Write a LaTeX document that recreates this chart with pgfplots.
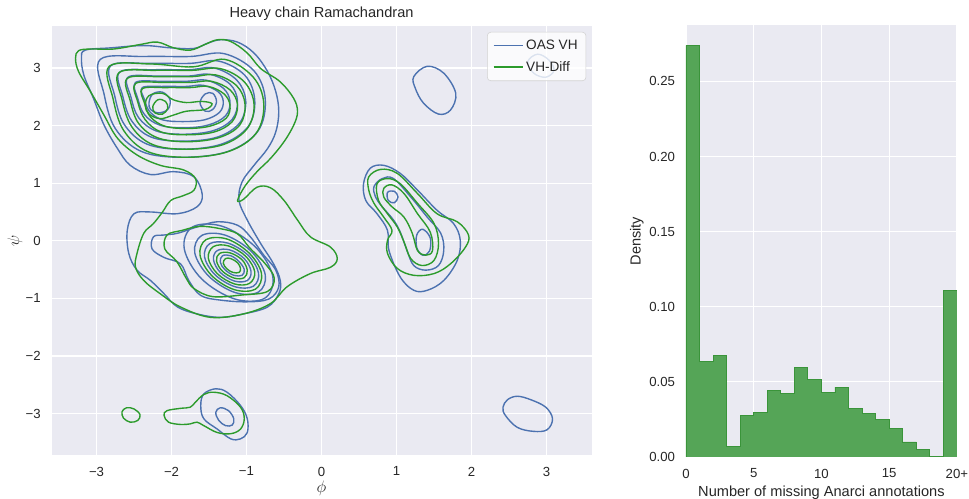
\documentclass[border=0pt]{standalone}
\usepackage{fontspec}
\setmainfont{Liberation Sans}
\usepackage{pgfplots}
\pgfplotsset{compat=1.18}

\definecolor{bg}{HTML}{EAEAF2}
\definecolor{sblue}{HTML}{4C72B0}
\definecolor{sgreen}{RGB}{44,155,44}
\definecolor{hfill}{RGB}{85,165,87}
\definecolor{hedge}{RGB}{58,148,58}
\definecolor{txt}{RGB}{38,38,38}

\pgfplotsset{
  sbstyle/.style={
    scale only axis,
    axis background/.style={fill=bg},
    axis line style={draw=none},
    grid=major,
    major grid style={white, line width=0.9pt},
    major tick length=0pt,
    tick label style={font=\fontsize{9.5}{11}\selectfont, text=txt},
    label style={font=\fontsize{10.5}{12}\selectfont, text=txt},
    every axis title shift=0pt,
    title style={font=\fontsize{10.5}{12}\selectfont, text=txt, at={(0.5,1)}, anchor=base, yshift=6pt},
    /pgf/number format/assume math mode=true,
    xticklabel style={yshift=-5pt},
    yticklabel style={xshift=-4.3pt},
  },
  cb/.style={color=sblue, line width=1pt, smooth cycle, tension=0.6, forget plot, mark=none},
  cg/.style={color=sgreen, line width=1pt, smooth cycle, tension=0.6, forget plot, mark=none},
}

\begin{document}
\begin{tikzpicture}
\useasboundingbox (-37.1pt,-31pt) rectangle (660.6pt,327.6pt);
\begin{axis}[sbstyle,
  width=388.8pt, height=308.9pt,
  xmin=-3.6, xmax=3.6, ymin=-3.72, ymax=3.73,
  xtick={-3,-2,-1,0,1,2,3}, xticklabels={−3,−2,−1,0,1,2,3},
  ytick={-3,-2,-1,0,1,2,3}, yticklabels={−3,−2,−1,0,1,2,3},
  title={Heavy chain Ramachandran},
  xlabel={$\phi$}, ylabel={$\psi$},
  xlabel style={at={(axis description cs:0.5,0)}, anchor=base, yshift=-27pt, font=\fontsize{12.5}{14}\selectfont},
  ylabel style={at={(axis description cs:-0.0676,0.5)}, anchor=center, font=\fontsize{12.5}{14}\selectfont},
  legend style={at={(1,1)}, anchor=north east, xshift=-3.8pt, yshift=-4.3pt,
    fill=white, fill opacity=0.8, draw opacity=1, text opacity=1, draw=black!18,
    rounded corners=2.5pt, font=\fontsize{9.8}{11}\selectfont, text=txt,
    inner xsep=4pt, inner ysep=3.5pt, row sep=3pt},
  legend cell align=left,
  legend image code/.code={\draw[#1] (0pt,0pt) -- (21pt,0pt);},
]
% ---------------- OAS VH (blue) ----------------
\addplot[cb] coordinates {(-3.15,3.31) (-2.81,3.35) (-2.37,3.39) (-2.01,3.35) (-1.70,3.34) (-1.52,3.43) (-1.35,3.49) (-1.12,3.45) (-0.90,3.26) (-0.72,2.94) (-0.61,2.59) (-0.57,2.24) (-0.61,1.89) (-0.72,1.60) (-0.90,1.31) (-1.06,1.02) (-1.10,0.70) (-0.99,0.36) (-0.81,-0.05) (-0.64,-0.40) (-0.55,-0.69) (-0.57,-0.92) (-0.72,-1.15) (-1.04,-1.27) (-1.35,-1.33) (-1.66,-1.27) (-1.92,-1.15) (-2.10,-0.92) (-2.28,-0.69) (-2.46,-0.51) (-2.57,-0.22) (-2.59,0.18) (-2.50,0.47) (-2.28,0.50) (-1.92,0.47) (-1.66,0.59) (-1.59,0.80) (-1.70,1.11) (-1.97,1.20) (-2.28,1.15) (-2.55,1.31) (-2.72,1.60) (-2.90,2.01) (-3.04,2.47) (-3.17,2.88) (-3.20,3.17)};
\addplot[cb] coordinates {(-2.95,3.15) (-2.35,3.20) (-1.75,3.20) (-1.30,3.25) (-0.90,2.95) (-0.75,2.45) (-0.85,1.90) (-1.25,1.55) (-1.85,1.45) (-2.40,1.55) (-2.75,1.95) (-2.90,2.55)};
\addplot[cb] coordinates {(-2.81,3.04) (-2.29,3.08) (-1.76,3.08) (-1.37,3.12) (-1.02,2.87) (-0.89,2.44) (-0.98,1.98) (-1.33,1.68) (-1.85,1.59) (-2.33,1.68) (-2.63,2.02) (-2.76,2.53)};
\addplot[cb] coordinates {(-2.69,2.93) (-2.23,2.97) (-1.77,2.97) (-1.43,3.00) (-1.13,2.79) (-1.01,2.44) (-1.09,2.05) (-1.39,1.80) (-1.85,1.73) (-2.27,1.80) (-2.53,2.08) (-2.65,2.51)};
\addplot[cb] coordinates {(-2.58,2.84) (-2.18,2.86) (-1.78,2.86) (-1.49,2.89) (-1.22,2.72) (-1.12,2.43) (-1.19,2.11) (-1.45,1.91) (-1.85,1.85) (-2.21,1.91) (-2.44,2.14) (-2.54,2.49)};
\addplot[cb] coordinates {(-2.48,2.75) (-2.14,2.77) (-1.79,2.77) (-1.54,2.79) (-1.31,2.65) (-1.22,2.42) (-1.28,2.17) (-1.51,2.01) (-1.85,1.96) (-2.16,2.01) (-2.36,2.19) (-2.45,2.47)};
\addplot[cb] coordinates {(-2.39,2.66) (-2.10,2.68) (-1.80,2.68) (-1.58,2.70) (-1.38,2.59) (-1.31,2.42) (-1.36,2.23) (-1.56,2.10) (-1.85,2.07) (-2.12,2.10) (-2.29,2.24) (-2.36,2.45)};
\addplot[cb] coordinates {(-2.30,2.40) (-2.25,2.55) (-2.12,2.58) (-2.02,2.45) (-2.05,2.28) (-2.18,2.22) (-2.28,2.28)};
\addplot[cb] coordinates {(-1.62,2.40) (-1.55,2.55) (-1.45,2.56) (-1.40,2.42) (-1.45,2.28) (-1.55,2.25)};
\addplot[cb] coordinates {(-2.24,0.07) (-2.26,-0.14) (-2.10,-0.29) (-1.88,-0.40) (-1.77,-0.69) (-1.61,-0.95) (-1.35,-1.03) (-0.99,-1.06) (-0.70,-1.01) (-0.57,-0.80) (-0.61,-0.51) (-0.77,-0.25) (-0.95,0.07) (-1.12,0.27) (-1.39,0.33) (-1.66,0.24) (-1.92,0.13) (-2.10,0.10)};
\addplot[cb] coordinates {(-0.76,-1.00) (-0.65,-0.62) (-0.88,-0.11) (-1.32,0.25) (-1.72,0.24) (-1.83,-0.14) (-1.60,-0.66) (-1.16,-1.01)};
\addplot[cb] coordinates {(-0.84,-0.89) (-0.75,-0.59) (-0.94,-0.18) (-1.29,0.10) (-1.60,0.09) (-1.69,-0.21) (-1.50,-0.62) (-1.15,-0.90)};
\addplot[cb] coordinates {(-0.91,-0.79) (-0.84,-0.56) (-0.98,-0.25) (-1.25,-0.04) (-1.49,-0.05) (-1.56,-0.28) (-1.42,-0.59) (-1.15,-0.80)};
\addplot[cb] coordinates {(-0.99,-0.69) (-0.94,-0.53) (-1.03,-0.31) (-1.22,-0.16) (-1.39,-0.17) (-1.44,-0.33) (-1.35,-0.55) (-1.16,-0.70)};
\addplot[cb] coordinates {(-1.06,-0.60) (-1.03,-0.50) (-1.10,-0.36) (-1.21,-0.26) (-1.32,-0.26) (-1.35,-0.37) (-1.29,-0.50) (-1.17,-0.60)};
\addplot[cb] coordinates {(0.56,0.99) (0.65,1.26) (0.83,1.31) (1.05,1.17) (1.28,0.88) (1.54,0.53) (1.76,0.30) (1.85,0.01) (1.81,-0.34) (1.63,-0.69) (1.41,-0.86) (1.23,-0.86) (1.05,-0.63) (0.90,-0.17) (0.88,0.18) (0.74,0.47) (0.59,0.70)};
\addplot[cb] coordinates {(0.70,0.94) (0.81,1.08) (0.96,1.08) (1.19,0.76) (1.41,0.41) (1.59,0.13) (1.63,-0.17) (1.56,-0.43) (1.39,-0.51) (1.23,-0.43) (1.14,-0.17) (1.05,0.15) (0.96,0.36) (0.81,0.59) (0.72,0.76)};
\addplot[cb] coordinates {(0.88,0.84) (0.97,0.86) (1.02,0.76) (0.97,0.66) (0.89,0.70)};
\addplot[cb] coordinates {(1.27,0.10) (1.35,0.20) (1.45,0.05) (1.44,-0.18) (1.35,-0.25) (1.27,-0.12)};
\addplot[cb] coordinates {(1.23,2.85) (1.41,3.03) (1.63,2.91) (1.79,2.56) (1.72,2.27) (1.56,2.20) (1.36,2.39) (1.25,2.65)};
\addplot[cb] coordinates {(2.75,3.11) (2.88,3.24) (3.03,3.14) (3.10,2.96) (2.99,2.84) (2.83,2.91)};
\addplot[cb] coordinates {(2.42,-2.89) (2.48,-2.76) (2.61,-2.70) (2.79,-2.76) (2.99,-2.89) (3.08,-3.09) (3.01,-3.28) (2.83,-3.31) (2.61,-3.24) (2.45,-3.03)};
\addplot[cb] coordinates {(-1.61,-2.86) (-1.57,-2.66) (-1.41,-2.57) (-1.26,-2.63) (-1.08,-2.86) (-0.99,-3.09) (-0.99,-3.33) (-1.08,-3.44) (-1.21,-3.44) (-1.39,-3.27) (-1.57,-3.09)};
\addplot[cb] coordinates {(-1.41,-2.98) (-1.35,-2.90) (-1.24,-2.95) (-1.17,-3.09) (-1.19,-3.20) (-1.28,-3.21) (-1.37,-3.12)};
% ---------------- VH-Diff (green) ----------------
\addplot[cg] coordinates {(-3.24,3.30) (-3.08,3.33) (-2.77,3.33) (-2.41,3.41) (-2.19,3.45) (-1.97,3.35) (-1.75,3.31) (-1.57,3.40) (-1.39,3.49) (-1.21,3.46) (-0.99,3.26) (-0.81,2.99) (-0.55,2.76) (-0.37,2.47) (-0.32,2.24) (-0.37,2.01) (-0.50,1.72) (-0.68,1.43) (-0.86,1.20) (-1.02,0.95) (-1.12,0.70) (-1.04,0.72) (-0.86,0.93) (-0.68,0.92) (-0.50,0.70) (-0.32,0.36) (-0.15,0.07) (0.12,-0.11) (0.21,-0.31) (0.12,-0.46) (-0.15,-0.57) (-0.46,-0.80) (-0.68,-1.09) (-1.04,-1.27) (-1.48,-1.33) (-1.88,-1.15) (-2.15,-0.92) (-2.37,-0.69) (-2.48,-0.46) (-2.46,-0.22) (-2.37,0.13) (-2.24,0.30) (-2.12,0.50) (-2.01,0.70) (-1.85,0.78) (-1.70,0.88) (-1.68,1.08) (-1.84,1.23) (-2.15,1.31) (-2.46,1.49) (-2.72,1.78) (-2.90,2.18) (-3.08,2.59) (-3.24,2.94) (-3.28,3.17)};
\addplot[cg] coordinates {(-2.83,3.03) (-2.27,3.07) (-1.71,3.02) (-1.29,3.15) (-0.91,2.84) (-0.77,2.38) (-0.87,1.87) (-1.24,1.55) (-1.80,1.45) (-2.32,1.55) (-2.64,1.92) (-2.78,2.47)};
\addplot[cg] coordinates {(-2.70,2.92) (-2.21,2.96) (-1.72,2.96) (-1.35,2.99) (-1.03,2.76) (-0.90,2.37) (-0.99,1.95) (-1.31,1.67) (-1.80,1.59) (-2.25,1.67) (-2.53,1.98) (-2.66,2.45)};
\addplot[cg] coordinates {(-2.59,2.82) (-2.16,2.85) (-1.73,2.85) (-1.41,2.88) (-1.13,2.69) (-1.02,2.37) (-1.09,2.01) (-1.37,1.79) (-1.80,1.72) (-2.19,1.79) (-2.44,2.04) (-2.55,2.43)};
\addplot[cg] coordinates {(-2.48,2.73) (-2.11,2.75) (-1.74,2.75) (-1.47,2.77) (-1.22,2.62) (-1.12,2.36) (-1.19,2.07) (-1.43,1.89) (-1.80,1.84) (-2.14,1.89) (-2.35,2.10) (-2.45,2.41)};
\addplot[cg] coordinates {(-2.39,2.64) (-2.07,2.66) (-1.75,2.66) (-1.51,2.68) (-1.30,2.55) (-1.22,2.35) (-1.27,2.13) (-1.49,1.99) (-1.80,1.95) (-2.09,1.99) (-2.28,2.15) (-2.36,2.39)};
\addplot[cg] coordinates {(-2.35,2.35) (-2.30,2.52) (-2.12,2.56) (-1.98,2.45) (-1.80,2.40) (-1.60,2.42) (-1.46,2.38) (-1.55,2.28) (-1.80,2.25) (-1.98,2.18) (-2.15,2.12) (-2.30,2.20)};
\addplot[cg] coordinates {(-2.25,2.33) (-2.18,2.45) (-2.08,2.42) (-2.05,2.30) (-2.12,2.20) (-2.22,2.22)};
\addplot[cg] coordinates {(-2.06,0.10) (-2.09,-0.14) (-1.93,-0.36) (-1.80,-0.66) (-1.70,-0.83) (-1.45,-0.97) (-1.05,-0.94) (-0.72,-0.88) (-0.63,-0.65) (-0.75,-0.40) (-0.96,-0.12) (-1.12,0.12) (-1.35,0.21) (-1.62,0.25) (-1.86,0.18)};
\addplot[cg] coordinates {(-0.88,-0.84) (-0.80,-0.57) (-0.96,-0.22) (-1.26,0.03) (-1.54,0.02) (-1.62,-0.25) (-1.46,-0.61) (-1.16,-0.85)};
\addplot[cg] coordinates {(-0.96,-0.74) (-0.89,-0.54) (-1.01,-0.27) (-1.24,-0.09) (-1.44,-0.10) (-1.51,-0.30) (-1.39,-0.57) (-1.16,-0.75)};
\addplot[cg] coordinates {(-1.03,-0.64) (-0.99,-0.51) (-1.06,-0.33) (-1.22,-0.21) (-1.36,-0.22) (-1.40,-0.35) (-1.32,-0.53) (-1.16,-0.65)};
\addplot[cg] coordinates {(-1.10,-0.55) (-1.08,-0.48) (-1.12,-0.38) (-1.21,-0.31) (-1.28,-0.31) (-1.31,-0.39) (-1.26,-0.49) (-1.18,-0.55)};
\addplot[cg] coordinates {(0.63,1.11) (0.79,1.24) (1.01,1.17) (1.28,0.82) (1.54,0.47) (1.81,0.33) (1.96,0.10) (1.92,-0.11) (1.72,-0.40) (1.50,-0.57) (1.23,-0.60) (1.01,-0.48) (0.88,-0.22) (0.88,0.01) (0.94,0.18) (0.83,0.41) (0.70,0.65) (0.63,0.88)};
\addplot[cg] coordinates {(0.74,0.99) (0.88,1.08) (1.05,0.99) (1.28,0.65) (1.50,0.30) (1.56,-0.05) (1.50,-0.34) (1.34,-0.43) (1.19,-0.31) (1.10,-0.02) (1.01,0.24) (0.88,0.47) (0.76,0.70)};
\addplot[cg] coordinates {(0.83,0.91) (0.94,0.97) (1.10,0.82) (1.28,0.47) (1.45,0.15) (1.48,-0.17) (1.39,-0.25) (1.28,-0.17) (1.21,0.13) (1.10,0.41) (0.94,0.59) (0.83,0.76)};
\addplot[cg] coordinates {(-2.66,-2.97) (-2.60,-2.90) (-2.50,-2.92) (-2.42,-3.02) (-2.45,-3.12) (-2.55,-3.15) (-2.64,-3.08)};
\addplot[cg] coordinates {(-2.10,-3.03) (-2.06,-2.95) (-1.88,-2.91) (-1.75,-2.89) (-1.68,-2.80) (-1.57,-2.67) (-1.44,-2.63) (-1.26,-2.69) (-1.08,-2.89) (-1.03,-3.09) (-1.08,-3.27) (-1.21,-3.35) (-1.39,-3.33) (-1.57,-3.21) (-1.66,-3.15) (-1.75,-3.18) (-1.88,-3.19) (-2.04,-3.15)};
\addlegendimage{color=sblue, line width=1pt}
\addlegendentry{OAS VH}
\addlegendimage{color=sgreen, line width=1pt}
\addlegendentry{VH-Diff}
\end{axis}

\begin{axis}[sbstyle,
  at={(456.8pt,-1.44pt)}, anchor=south west,
  width=195.1pt, height=311pt,
  xmin=0, xmax=20, ymin=0, ymax=0.2875,
  xtick={0,5,10,15,20}, xticklabels={0,5,10,15,20+},
  ytick={0,0.05,0.1,0.15,0.2,0.25},
  yticklabel style={/pgf/number format/fixed, /pgf/number format/fixed zerofill, /pgf/number format/precision=2},
  xlabel={Number of missing Anarci annotations}, ylabel={Density},
  xlabel style={at={(axis description cs:0.5,0)}, anchor=base, yshift=-28.8pt},
  ylabel style={at={(axis description cs:-0.181,0.5)}, anchor=center},
]
\addplot[const plot, fill=hfill, draw=hedge, line width=0.6pt] coordinates {(0,0.274) (1,0.0636) (2,0.0678) (3,0.0071) (4,0.0275) (5,0.0299) (6,0.0445) (7,0.0425) (8,0.0598) (9,0.0514) (10,0.0432) (11,0.0465) (12,0.0323) (13,0.0288) (14,0.0252) (15,0.019) (16,0.010) (17,0.0051) (18,0.0004) (19,0.111) (20,0.111)} \closedcycle;
\end{axis}
\end{tikzpicture}
\end{document}
